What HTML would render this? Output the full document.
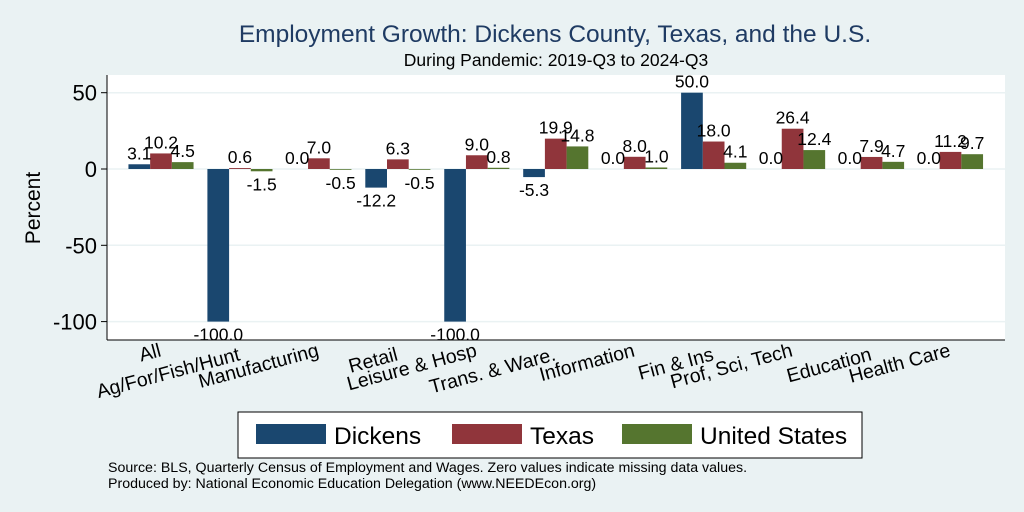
<!DOCTYPE html>
<html><head><meta charset="utf-8"><style>
body{margin:0;background:#eaf2f3;}
svg{display:block;font-family:"Liberation Sans",Arial,sans-serif;}
</style></head><body>
<svg id="chart" width="1024" height="512">
<rect width="1024" height="512" fill="#eaf2f3"/>
<text x="555" y="42" font-size="24.5" fill="#1f3b63" text-anchor="middle">Employment Growth: Dickens County, Texas, and the U.S.</text>
<text x="556" y="66" font-size="17.5" fill="#000" text-anchor="middle">During Pandemic: 2019-Q3 to 2024-Q3</text>
<rect x="107" y="75" width="898" height="265" fill="#fff"/>
<g id="grid"></g><g id="bars"></g><g id="labels"></g><g id="axes"></g>
<text transform="translate(40,208) rotate(-90)" font-size="21" text-anchor="middle">Percent</text>
<g>
<rect x="238" y="412" width="624" height="46" fill="#fff" stroke="#000" stroke-width="1"/>
<rect x="256" y="424" width="70" height="20" fill="#1a476f"/>
<text x="334" y="444" font-size="24.5">Dickens</text>
<rect x="452" y="424" width="70" height="20" fill="#90353b"/>
<text x="530" y="444" font-size="24.5">Texas</text>
<rect x="622" y="424" width="70" height="20" fill="#55752f"/>
<text x="700" y="444" font-size="24.5">United States</text>
</g>
<text x="108" y="472" font-size="14.2">Source: BLS, Quarterly Census of Employment and Wages. Zero values indicate missing data values.</text>
<text x="108" y="488" font-size="14.2">Produced by: National Economic Education Delegation (www.NEEDEcon.org)</text>
</svg>
<script>
const categories=["All","Ag/For/Fish/Hunt","Manufacturing","Retail","Leisure & Hosp","Trans. & Ware.","Information","Fin & Ins","Prof, Sci, Tech","Education","Health Care"];
const dickens=[3.1,-100.0,0.0,-12.2,-100.0,-5.3,0.0,50.0,0.0,0.0,0.0];
const texas=[10.2,0.6,7.0,6.3,9.0,19.9,8.0,18.0,26.4,7.9,11.2];
const us=[4.5,-1.5,-0.5,-0.5,0.8,14.8,1.0,4.1,12.4,4.7,9.7];
const yTicks=[50,0,-50,-100];
const seriesNames=["dickens","texas","us"];
const colors=["#1a476f","#90353b","#55752f"];
const NS="http://www.w3.org/2000/svg";
const y=v=>169-v*76.3/50;
const xc=i=>161+i*78.95;
const bw=21.7;
function mk(tag,attrs,parent){const e=document.createElementNS(NS,tag);for(const k in attrs)e.setAttribute(k,attrs[k]);document.getElementById(parent).appendChild(e);return e;}
yTicks.forEach(t=>{
 const g=mk("line",{x1:107,x2:1005,y1:y(t),y2:y(t),stroke:"#eaf2f3","stroke-width":1.5},"grid");
 
 
 const tk=mk("line",{x1:101,x2:107,y1:y(t),y2:y(t),stroke:"#000"},"axes");
 
 
 const tl=mk("text",{x:97,y:y(t)+8,"font-size":22,"text-anchor":"end"},"axes");
 tl.textContent=t;
 
 
});
const ya=mk("line",{x1:107,x2:107,y1:75,y2:340,stroke:"#000"},"axes");


const xa=mk("line",{x1:107,x2:1005,y1:340,y2:340,stroke:"#000"},"axes");


[dickens,texas,us].forEach((ser,s)=>{
 ser.forEach((v,i)=>{
  const x0=xc(i)+(s-1)*bw-bw/2;
  const top=Math.min(y(v),y(0)),h=Math.abs(y(v)-y(0));
  const r=mk("rect",{x:x0,y:top,width:bw,height:Math.max(h,0.01),fill:colors[s]},"bars");
  
  
  const t=mk("text",{x:x0+bw/2,y:v>=0?y(v)-5:y(v)+19,"font-size":17.5,"text-anchor":"middle"},"labels");
  t.textContent=v.toFixed(1);
  
  
 });
});
categories.forEach((c,i)=>{
 const xx=xc(i)+1, yy=i%2===0?356:360;
 const t=mk("text",{x:xx,y:yy,"font-size":19.5,"text-anchor":"end",transform:`rotate(-15 ${xx} ${yy})`},"axes");
 t.textContent=c;
 
 
});
</script>
</body></html>
